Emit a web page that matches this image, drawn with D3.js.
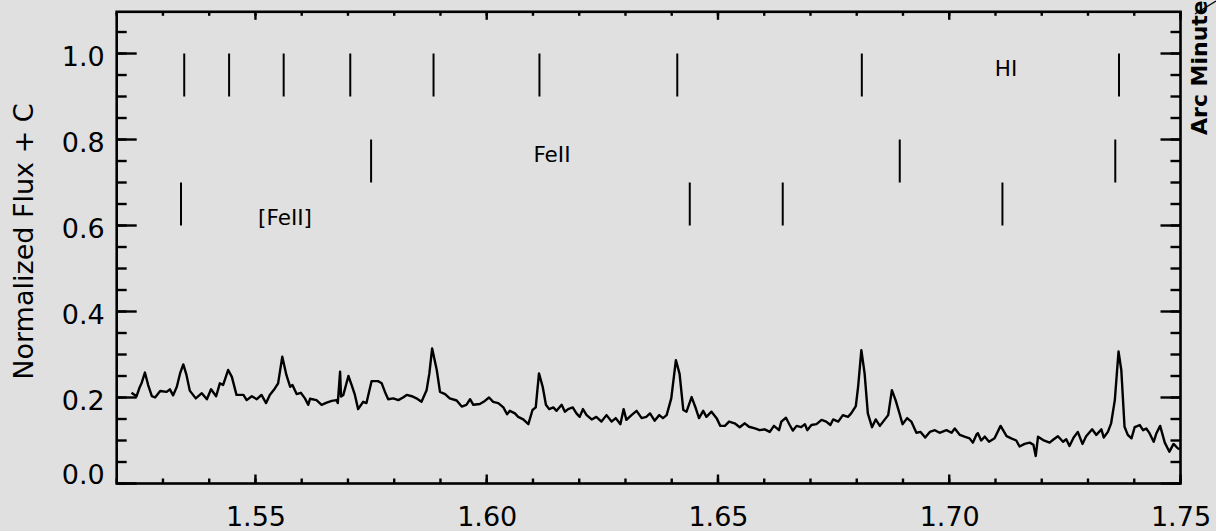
<!DOCTYPE html>
<html>
<head>
<meta charset="utf-8">
<script src="https://cdn.jsdelivr.net/npm/d3@7/dist/d3.min.js"></script>
<style>
  html, body { margin: 0; padding: 0; background: #e0e0e0; }
  #wrap { position: relative; width: 1216px; height: 531px; }
  #chart { position: absolute; left: 0; top: 0; display: block; }
  #axes { position: absolute; left: 0; top: 0; display: block; }
  text { font-family: "DejaVu Sans", sans-serif; fill: #000; }
</style>
</head>
<body>
<div id="wrap">
<svg id="chart" width="1216" height="531"></svg>
<svg id="axes" width="1216" height="531"></svg>
</div>
<script>
// ---- Data ----
const wavelength = [
  1.5232,1.5243,1.5249,1.5254,1.5261,1.5268,1.5276,1.5283,1.5294,1.5308,
  1.5315,1.5322,1.5330,1.5337,1.5344,1.5351,1.5358,1.5371,1.5384,1.5395,
  1.5404,1.5415,1.5423,1.5430,1.5441,1.5449,1.5459,1.5474,1.5481,1.5492,
  1.5503,1.5513,1.5523,1.5531,1.5542,1.5549,1.5558,1.5567,1.5575,1.5580,
  1.5589,1.5598,1.5607,1.5614,1.5618,1.5632,1.5643,1.5654,1.5665,1.5675,
  1.5678,1.5683,1.5685,1.5690,1.5701,1.5708,1.5715,1.5722,1.5733,1.5740,
  1.5751,1.5765,1.5773,1.5780,1.5787,1.5798,1.5809,1.5819,1.5827,1.5838,
  1.5848,1.5859,1.5870,1.5876,1.5882,1.5892,1.5899,1.5910,1.5920,1.5935,
  1.5946,1.5956,1.5964,1.5971,1.5985,1.5996,1.6005,1.6014,1.6025,1.6036,
  1.6044,1.6050,1.6061,1.6068,1.6079,1.6090,1.6099,1.6106,1.6113,1.6121,
  1.6128,1.6135,1.6144,1.6151,1.6162,1.6169,1.6176,1.6186,1.6194,1.6201,
  1.6208,1.6216,1.6227,1.6237,1.6248,1.6259,1.6270,1.6279,1.6289,1.6296,
  1.6302,1.6313,1.6324,1.6335,1.6345,1.6353,1.6363,1.6373,1.6381,1.6389,
  1.6399,1.6409,1.6417,1.6425,1.6432,1.6443,1.6452,1.6459,1.6468,1.6475,
  1.6486,1.6497,1.6505,1.6515,1.6524,1.6536,1.6547,1.6558,1.6567,1.6580,
  1.6590,1.6601,1.6612,1.6621,1.6632,1.6637,1.6647,1.6655,1.6662,1.6670,
  1.6680,1.6688,1.6693,1.6702,1.6713,1.6724,1.6734,1.6743,1.6749,1.6760,
  1.6770,1.6781,1.6788,1.6798,1.6803,1.6810,1.6817,1.6824,1.6833,1.6841,
  1.6850,1.6860,1.6868,1.6876,1.6884,1.6893,1.6899,1.6909,1.6918,1.6929,
  1.6938,1.6948,1.6958,1.6969,1.6979,1.6994,1.7005,1.7012,1.7023,1.7033,
  1.7044,1.7051,1.7059,1.7062,1.7069,1.7077,1.7086,1.7098,1.7111,1.7124,
  1.7134,1.7145,1.7152,1.7163,1.7174,1.7182,1.7187,1.7192,1.7203,1.7217,
  1.7226,1.7235,1.7246,1.7253,1.7260,1.7269,1.7278,1.7288,1.7296,1.7309,
  1.7318,1.7329,1.7334,1.7343,1.7350,1.7358,1.7366,1.7372,1.7379,1.7386,
  1.7394,1.7401,1.7412,1.7419,1.7426,1.7433,1.7442,1.7448,1.7456,1.7466,
  1.7476,1.7485,1.7494,1.7498
];
const flux = [
  0.211,0.203,0.222,0.234,0.258,0.229,0.203,0.200,0.215,0.213,
  0.219,0.205,0.225,0.256,0.277,0.252,0.216,0.198,0.210,0.196,
  0.219,0.203,0.233,0.229,0.264,0.248,0.206,0.206,0.194,0.203,
  0.196,0.206,0.187,0.206,0.221,0.233,0.295,0.252,0.225,0.229,
  0.208,0.211,0.198,0.183,0.197,0.194,0.183,0.188,0.192,0.194,
  0.187,0.260,0.202,0.206,0.250,0.229,0.206,0.173,0.190,0.187,
  0.238,0.238,0.233,0.213,0.196,0.198,0.194,0.200,0.206,0.203,
  0.198,0.190,0.217,0.256,0.314,0.264,0.213,0.208,0.198,0.193,
  0.179,0.183,0.196,0.183,0.185,0.192,0.200,0.190,0.187,0.177,
  0.161,0.169,0.163,0.155,0.149,0.138,0.171,0.177,0.256,0.225,
  0.183,0.173,0.177,0.169,0.183,0.167,0.173,0.177,0.163,0.155,
  0.173,0.159,0.149,0.155,0.144,0.159,0.144,0.152,0.138,0.173,
  0.148,0.159,0.169,0.152,0.155,0.163,0.146,0.159,0.152,0.159,
  0.198,0.287,0.255,0.171,0.167,0.201,0.175,0.152,0.169,0.155,
  0.167,0.152,0.134,0.134,0.144,0.140,0.131,0.140,0.132,0.128,
  0.124,0.126,0.120,0.134,0.124,0.144,0.153,0.136,0.123,0.134,
  0.131,0.138,0.124,0.136,0.138,0.148,0.144,0.136,0.149,0.144,
  0.159,0.155,0.163,0.180,0.225,0.310,0.256,0.163,0.131,0.149,
  0.134,0.148,0.159,0.217,0.194,0.161,0.138,0.152,0.144,0.118,
  0.120,0.107,0.120,0.124,0.118,0.124,0.118,0.128,0.113,0.109,
  0.105,0.095,0.114,0.117,0.100,0.109,0.097,0.105,0.134,0.110,
  0.105,0.100,0.086,0.092,0.095,0.090,0.064,0.109,0.101,0.095,
  0.103,0.110,0.097,0.103,0.087,0.107,0.120,0.092,0.110,0.126,
  0.113,0.126,0.107,0.120,0.140,0.194,0.307,0.264,0.132,0.113,
  0.105,0.131,0.136,0.124,0.128,0.117,0.097,0.117,0.134,0.095,
  0.074,0.092,0.082,0.080
];

// Line identifications (microns)
const hiLines = [1.5346, 1.5443, 1.5561, 1.5705, 1.5885, 1.6114, 1.6412, 1.6811, 1.7367];
const feiiLines = [1.5750, 1.6893, 1.7359];
const forbFeiiLines = [1.5339, 1.6439, 1.6640, 1.7115];
const markerRows = [
  { name: "HI", lines: hiLines, top: 1.0, bottom: 0.9, labelX: 1.7123, labelY: 0.948 },
  { name: "FeII", lines: feiiLines, top: 0.8, bottom: 0.7, labelX: 1.6141, labelY: 0.748 },
  { name: "[FeII]", lines: forbFeiiLines, top: 0.7, bottom: 0.6, labelX: 1.5564, labelY: 0.601 }
];

const xMajorTicks = [1.55, 1.60, 1.65, 1.70, 1.75];
const xMinorTicks = [1.52, 1.53, 1.54, 1.55, 1.56, 1.57, 1.58, 1.59, 1.60, 1.61, 1.62, 1.63,
                     1.64, 1.65, 1.66, 1.67, 1.68, 1.69, 1.70, 1.71, 1.72, 1.73, 1.74, 1.75];
const yMajorTicks = [0.0, 0.2, 0.4, 0.6, 0.8, 1.0];
const yMinorTicks = [0.0, 0.05, 0.1, 0.15, 0.2, 0.25, 0.3, 0.35, 0.4, 0.45, 0.5, 0.55,
                     0.6, 0.65, 0.7, 0.75, 0.8, 0.85, 0.9, 0.95, 1.0, 1.05];
const xTickLabels = ["1.55", "1.60", "1.65", "1.70", "1.75"];
const yTickLabels = ["0.0", "0.2", "0.4", "0.6", "0.8", "1.0"];

const yTitle = "Normalized Flux + C";
const rightTitle = "Arc Minute";

// ---- Layout ----
const svg = d3.select("#chart");
const axesSvg = d3.select("#axes");
const L = 116.7, R = 1180.5, T = 11.8, B = 483.5;
const xs = d3.scaleLinear().domain([1.52, 1.75]).range([L, R]);
const ys = d3.scaleLinear().domain([0, 1.097]).range([B, T]);

// spectrum
const spectrumLine = d3.line().x((d, i) => xs(wavelength[i])).y((d, i) => ys(flux[i]));
svg.append("path")
  .datum(flux)
  .attr("d", spectrumLine)
  .attr("fill", "none")
  .attr("stroke", "#000")
  .attr("stroke-width", 2.4)
  .attr("stroke-linejoin", "round");

// marker rows
markerRows.forEach(row => {
  svg.append("g").selectAll("line").data(row.lines).join("line")
    .attr("x1", d => xs(d)).attr("x2", d => xs(d))
    .attr("y1", ys(row.top)).attr("y2", ys(row.bottom))
    .attr("stroke", "#000").attr("stroke-width", 2);
  svg.append("text")
    .attr("x", xs(row.labelX)).attr("y", ys(row.labelY))
    .attr("text-anchor", "middle")
    .attr("font-size", 21.5)
    .text(row.name);
});

// tick labels via d3 axes
const gBottom = svg.append("g").attr("transform", `translate(0,${B})`)
  .call(d3.axisBottom(xs).tickValues(xMajorTicks).tickSize(0).tickPadding(23)
    .tickFormat((d, i) => xTickLabels[i]));
gBottom.select(".domain").remove();
gBottom.selectAll("text").attr("font-family", "DejaVu Sans, sans-serif").attr("font-size", 27).attr("fill", "#000");

const gLeft = svg.append("g").attr("transform", `translate(${L},0)`)
  .call(d3.axisLeft(ys).tickValues(yMajorTicks).tickSize(0).tickPadding(12)
    .tickFormat((d, i) => yTickLabels[i]));
gLeft.select(".domain").remove();
gLeft.selectAll("text").attr("font-family", "DejaVu Sans, sans-serif").attr("font-size", 27).attr("fill", "#000")
  .attr("dy", d => d === 0 ? "0.0em" : "0.46em");

// titles
svg.append("text")
  .attr("transform", `translate(33,${(95 + 388) / 2}) rotate(-90)`)
  .attr("text-anchor", "middle")
  .attr("font-size", 27)
  .text(yTitle);

svg.append("text")
  .attr("transform", `translate(1207,135) rotate(-90)`)
  .attr("text-anchor", "start")
  .attr("font-size", 22)
  .attr("font-weight", "bold")
  .text(rightTitle);

svg.append("path")
  .attr("d", "M1195,14L1216,1")
  .attr("stroke", "#000").attr("stroke-width", 1.2);

// ---- frame + tick marks in an overlay svg, from the scales ----
const tickLayer = axesSvg.append("g").attr("stroke", "#000").attr("stroke-width", 2.4);
function drawXTicks(values, len) {
  tickLayer.append("g").selectAll("line").data(values).join("line")
    .attr("x1", d => xs(d)).attr("x2", d => xs(d))
    .attr("y1", B).attr("y2", B - len);
  tickLayer.append("g").selectAll("line").data(values).join("line")
    .attr("x1", d => xs(d)).attr("x2", d => xs(d))
    .attr("y1", T).attr("y2", T + len - 1);
}
function drawYTicks(values, len) {
  tickLayer.append("g").selectAll("line").data(values).join("line")
    .attr("y1", d => ys(d)).attr("y2", d => ys(d))
    .attr("x1", L).attr("x2", L + len);
  tickLayer.append("g").selectAll("line").data(values).join("line")
    .attr("y1", d => ys(d)).attr("y2", d => ys(d))
    .attr("x1", R).attr("x2", R - len);
}
drawXTicks(xMinorTicks, 5);
drawXTicks(xMajorTicks, 9);
drawYTicks(yMinorTicks, 10);
drawYTicks(yMajorTicks, 20);

axesSvg.append("rect")
  .attr("x", L).attr("y", T).attr("width", R - L).attr("height", B - T)
  .attr("fill", "none").attr("stroke", "#000").attr("stroke-width", 2.6);
</script>
</body>
</html>
